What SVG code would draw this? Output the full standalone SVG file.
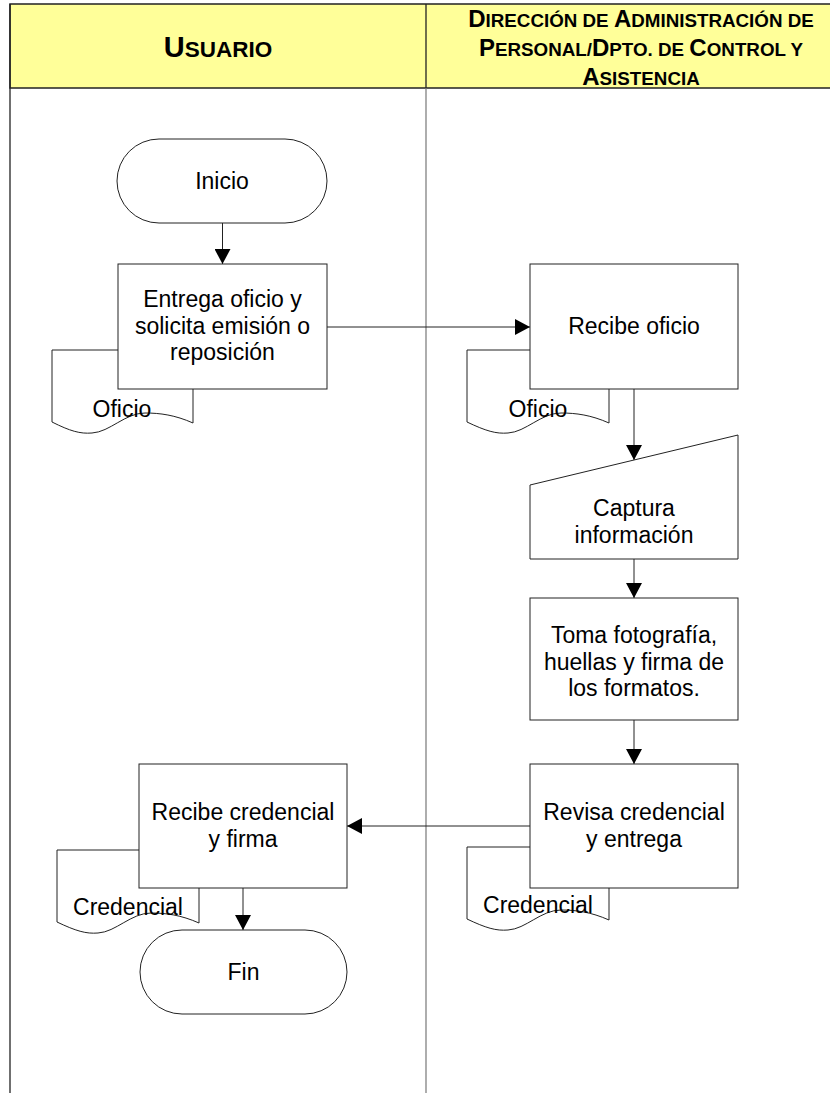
<svg xmlns="http://www.w3.org/2000/svg" width="830" height="1093" viewBox="0 0 830 1093">
  <style>
    .lane-head { fill: #FFFF99; stroke: #222; stroke-width: 1.5; }
    .lane-line { stroke: #222; stroke-width: 1.3; fill: none; }
    .lane-div { stroke: #777; stroke-width: 1.2; fill: none; }
    .shape { fill: #fff; stroke: #222; stroke-width: 1; }
    .conn { stroke: #222; stroke-width: 1; fill: none; marker-end: url(#arrow); }
    .lbl { font-family: "Liberation Sans", Arial, sans-serif; font-size: 23px; fill: #000; text-anchor: middle; }
    .doc-lbl { font-family: "Liberation Sans", Arial, sans-serif; font-size: 23px; fill: #000; text-anchor: middle; }
    .head { font-family: "Liberation Sans", Arial, sans-serif; font-weight: bold; fill: #000; text-anchor: middle; }
  </style>
  <defs>
    <marker id="arrow" markerUnits="userSpaceOnUse" markerWidth="16" markerHeight="16" refX="15" refY="8" orient="auto">
      <path d="M0,0 L15,8 L0,16 z" fill="#000"/>
    </marker>
  </defs>

  <rect width="830" height="1093" fill="#fff"/>

  <!-- swimlane frame -->
  <g id="lanes">
    <rect class="lane-head" x="10" y="4" width="830" height="84"/>
    <line class="lane-line" x1="426" y1="4" x2="426" y2="88"/>
    <line class="lane-line" x1="10" y1="4" x2="10" y2="1093"/>
    <line class="lane-div" x1="426" y1="88" x2="426" y2="1093"/>
    <text class="head" x="218" y="57"><tspan font-size="29">U</tspan><tspan font-size="22.5">SUARIO</tspan></text>
    <text class="head" x="641" y="27"><tspan font-size="24">D</tspan><tspan font-size="18.8">IRECCIÓN DE </tspan><tspan font-size="24">A</tspan><tspan font-size="18.8">DMINISTRACIÓN DE</tspan></text>
    <text class="head" x="641" y="56"><tspan font-size="24">P</tspan><tspan font-size="18.8">ERSONAL/</tspan><tspan font-size="24">D</tspan><tspan font-size="18.8">PTO. DE </tspan><tspan font-size="24">C</tspan><tspan font-size="18.8">ONTROL Y</tspan></text>
    <text class="head" x="641" y="85"><tspan font-size="24">A</tspan><tspan font-size="18.8">SISTENCIA</tspan></text>
  </g>

  <!-- connectors -->
  <g id="connectors">
    <line class="conn" x1="222.5" y1="223" x2="222.5" y2="264"/>
    <line class="conn" x1="327" y1="327" x2="530" y2="327"/>
    <line class="conn" x1="634" y1="389" x2="634" y2="460"/>
    <line class="conn" x1="634" y1="559" x2="634" y2="598"/>
    <line class="conn" x1="634" y1="720" x2="634" y2="764"/>
    <line class="conn" x1="530" y1="826" x2="347" y2="826"/>
    <line class="conn" x1="243" y1="888" x2="243" y2="930"/>
  </g>

  <g id="inicio">
    <rect class="shape" x="117" y="139" width="210" height="84" rx="42" ry="42"/>
    <text class="lbl" x="222" y="189">Inicio</text>
  </g>

  <g id="doc-oficio-usuario">
    <path class="shape" d="M52,350 L193,350 L193,423 C175,415 160,413 145,413 C125,413 110,432 92,433 C80,434 70,431 52,422 Z"/>
    <text class="doc-lbl" x="122" y="417">Oficio</text>
  </g>

  <g id="entrega-oficio">
    <rect class="shape" x="118" y="264" width="209" height="125"/>
    <text class="lbl" x="222.5" y="307">Entrega oficio y</text>
    <text class="lbl" x="222.5" y="333.5">solicita emisión o</text>
    <text class="lbl" x="222.5" y="360">reposición</text>
  </g>

  <g id="doc-oficio-dap">
    <path class="shape" d="M467,350 L609,350 L609,423 C591,415 576,413 561,413 C541,413 526,432 508,433 C496,434 486,431 467,422 Z"/>
    <text class="doc-lbl" x="538" y="417">Oficio</text>
  </g>

  <g id="recibe-oficio">
    <rect class="shape" x="530" y="264" width="208" height="125"/>
    <text class="lbl" x="634" y="334">Recibe oficio</text>
  </g>

  <g id="captura-informacion">
    <path class="shape" d="M530,485 L738,435 L738,559 L530,559 Z"/>
    <text class="lbl" x="634" y="516">Captura</text>
    <text class="lbl" x="634" y="543">información</text>
  </g>

  <g id="toma-fotografia">
    <rect class="shape" x="530" y="598" width="208" height="122"/>
    <text class="lbl" x="634" y="643">Toma fotografía,</text>
    <text class="lbl" x="634" y="669.5">huellas y firma de</text>
    <text class="lbl" x="634" y="696">los formatos.</text>
  </g>

  <g id="doc-credencial-dap">
    <path class="shape" d="M467,847 L609,847 L609,920 C591,912 576,910 561,910 C541,910 526,929 508,930 C496,931 486,928 467,919 Z"/>
    <text class="doc-lbl" x="538" y="913">Credencial</text>
  </g>

  <g id="revisa-credencial">
    <rect class="shape" x="530" y="764" width="208" height="124"/>
    <text class="lbl" x="634" y="820">Revisa credencial</text>
    <text class="lbl" x="634" y="847">y entrega</text>
  </g>

  <g id="doc-credencial-usuario">
    <path class="shape" d="M57,850 L199,850 L199,923 C181,915 166,913 151,913 C131,913 116,932 98,933 C86,934 76,931 57,922 Z"/>
    <text class="doc-lbl" x="128" y="915">Credencial</text>
  </g>

  <g id="recibe-credencial">
    <rect class="shape" x="139" y="764" width="208" height="124"/>
    <text class="lbl" x="243" y="820">Recibe credencial</text>
    <text class="lbl" x="243" y="847">y firma</text>
  </g>

  <g id="fin">
    <rect class="shape" x="140" y="930" width="207" height="84" rx="42" ry="42"/>
    <text class="lbl" x="243.5" y="980">Fin</text>
  </g>
</svg>
